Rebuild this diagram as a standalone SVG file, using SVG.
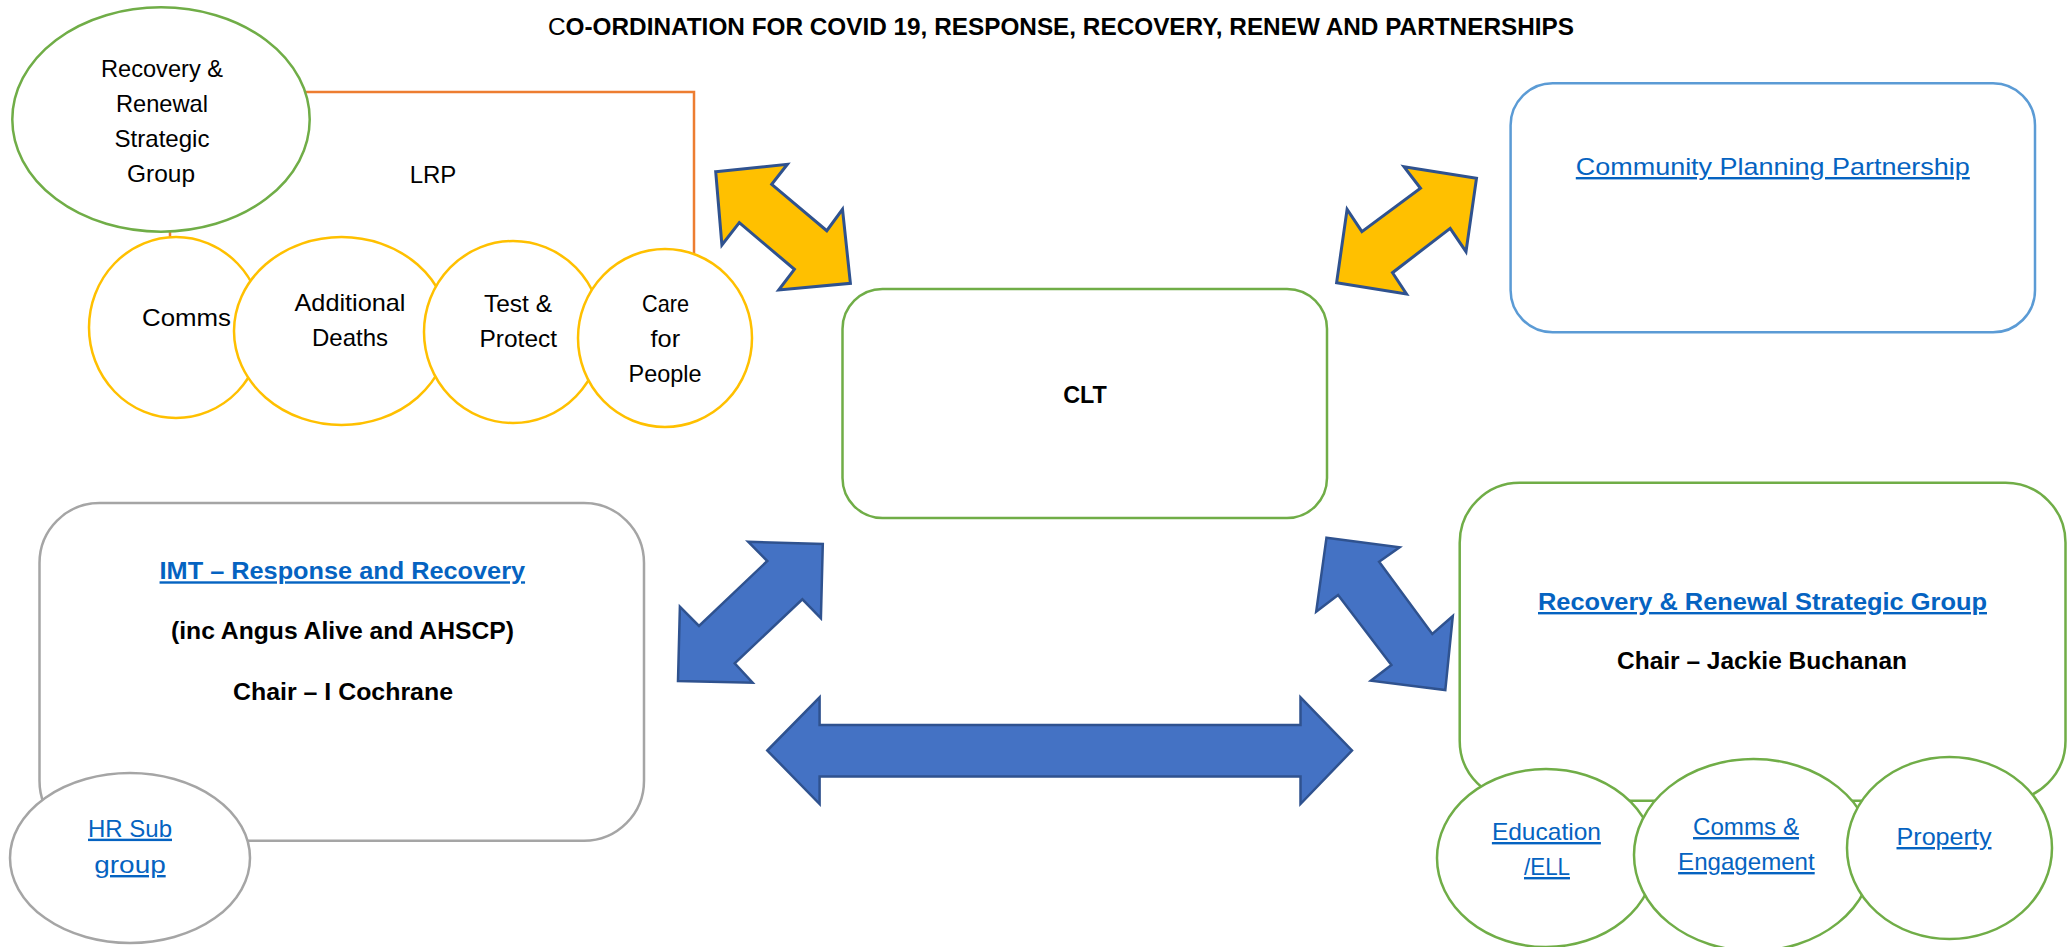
<svg xmlns="http://www.w3.org/2000/svg" width="2071" height="947" viewBox="0 0 2071 947">
<style>
text{font-family:"Liberation Sans",Arial,sans-serif;font-size:24px;fill:#000;text-anchor:middle}
.b{font-weight:bold}
.lk{fill:#0563C1;text-decoration:underline}
.lkb{fill:#0563C1;text-decoration:underline;font-weight:bold}
.yc{fill:#fff;stroke:#FFC000;stroke-width:2.5}
.gc{fill:#fff;stroke:#70AD47;stroke-width:2.5}
.ya{fill:#FFC000;stroke:#2F528F;stroke-width:3;stroke-linejoin:miter}
.ba{fill:#4472C4;stroke:#2F528F;stroke-width:2.5;stroke-linejoin:miter}
</style>
<rect width="2071" height="947" fill="#fff"/>
<text id="title" class="b" x="1061" y="35" textLength="1026" lengthAdjust="spacingAndGlyphs"><tspan font-weight="normal">C</tspan>O-ORDINATION FOR COVID 19, RESPONSE, RECOVERY, RENEW AND PARTNERSHIPS</text>

<g id="connectors">
<polygon class="ya" points="715.7,171.7 787.4,164.3 771.7,184.3 826.8,230.7 842.5,209.3 850.4,283.3 778.7,290 794.4,269.3 739.3,222.7 721.9,245"/>
<polygon class="ya" points="1403.9,166.7 1476.5,178.3 1466,251.7 1450.2,228.3 1392.5,272.7 1406.5,294 1336.6,282.7 1347.1,209.3 1361.9,231.7 1420.5,188.3"/>
<polygon class="ba" points="748.1,541.7 822.8,544 820.9,618.3 802.4,599.3 734.7,663.3 752.6,682.7 678,681 679.9,606.7 699,626 767.3,561"/>
<polygon class="ba" points="1326.5,537.7 1399.6,547.3 1379.1,561.7 1432.3,634 1452.8,616 1445.3,690 1370.9,680.7 1391.4,665 1338.1,595 1316.2,611.7"/>
<polygon class="ba" points="767.3,750.5 819.6,697.3 819.6,725 1300.5,725 1300.5,697.3 1352,750.5 1300.5,804 1300.5,776.5 819.6,776.5 819.6,804"/>
</g>

<g id="lrp">
<rect x="170" y="92" width="524" height="198" fill="none" stroke="#ED7D31" stroke-width="2.5"/>
<text x="433" y="183">LRP</text>
</g>

<g id="rrsg-small">
<ellipse cx="161" cy="119.5" rx="148.7" ry="112.2" class="gc"/>
<text x="162" y="77" textLength="122" lengthAdjust="spacingAndGlyphs">Recovery &amp;</text>
<text x="162" y="112" textLength="92" lengthAdjust="spacingAndGlyphs">Renewal</text>
<text x="162" y="147" textLength="95" lengthAdjust="spacingAndGlyphs">Strategic</text>
<text x="161" y="182" textLength="68" lengthAdjust="spacingAndGlyphs">Group</text>
</g>

<g id="comms">
<ellipse cx="176" cy="327.5" rx="87" ry="90.5" class="yc"/>
<text x="186.5" y="326" textLength="89" lengthAdjust="spacingAndGlyphs">Comms</text>
</g>
<g id="additional-deaths">
<ellipse cx="341.5" cy="331" rx="107.5" ry="94" class="yc"/>
<text x="350" y="310.7" textLength="111" lengthAdjust="spacingAndGlyphs">Additional</text>
<text x="350" y="346" textLength="76" lengthAdjust="spacingAndGlyphs">Deaths</text>
</g>
<g id="test-protect">
<ellipse cx="513" cy="332" rx="89" ry="91" class="yc"/>
<text x="518" y="311.7" textLength="68" lengthAdjust="spacingAndGlyphs">Test &amp;</text>
<text x="518.3" y="346.7" textLength="77.5" lengthAdjust="spacingAndGlyphs">Protect</text>
</g>
<g id="care-for-people">
<ellipse cx="665" cy="338" rx="87" ry="89" class="yc"/>
<text x="665.5" y="311.7" textLength="47" lengthAdjust="spacingAndGlyphs">Care</text>
<text x="665.3" y="346.7" textLength="29.6" lengthAdjust="spacingAndGlyphs">for</text>
<text x="665" y="381.7" textLength="73" lengthAdjust="spacingAndGlyphs">People</text>
</g>

<g id="clt">
<rect x="842.5" y="289" width="484.5" height="229" rx="40" class="gc"/>
<text class="b" x="1085" y="402.7" textLength="43.7" lengthAdjust="spacingAndGlyphs">CLT</text>
</g>

<g id="cpp">
<rect x="1510.6" y="83.3" width="524.4" height="249" rx="42" fill="#fff" stroke="#5B9BD5" stroke-width="2.5"/>
<text class="lk" x="1772.8" y="175" textLength="394" lengthAdjust="spacingAndGlyphs">Community Planning Partnership</text>
</g>

<g id="imt">
<rect x="39.5" y="503" width="604.5" height="337.7" rx="60" fill="#fff" stroke="#A5A5A5" stroke-width="2.5"/>
<text class="lkb" x="342.3" y="579.3" textLength="365.5" lengthAdjust="spacingAndGlyphs">IMT – Response and Recovery</text>
<text class="b" x="342.5" y="639.3" textLength="343" lengthAdjust="spacingAndGlyphs">(inc Angus Alive and AHSCP)</text>
<text class="b" x="343" y="700" textLength="220" lengthAdjust="spacingAndGlyphs">Chair – I Cochrane</text>
</g>

<g id="hr-sub-group">
<ellipse cx="130" cy="858" rx="120" ry="85" fill="#fff" stroke="#A5A5A5" stroke-width="2.5"/>
<text class="lk" x="130" y="836.7" textLength="84" lengthAdjust="spacingAndGlyphs">HR Sub</text>
<text class="lk" x="130" y="873" textLength="71.4" lengthAdjust="spacingAndGlyphs">group</text>
</g>

<g id="rrsg">
<rect x="1459.7" y="482.7" width="605.8" height="318" rx="60" class="gc"/>
<text class="lkb" x="1762.5" y="610" textLength="449" lengthAdjust="spacingAndGlyphs">Recovery &amp; Renewal Strategic Group</text>
<text class="b" x="1762" y="669.3" textLength="290" lengthAdjust="spacingAndGlyphs">Chair – Jackie Buchanan</text>
</g>

<g id="education-ell">
<ellipse cx="1546" cy="858" rx="109" ry="89" class="gc"/>
<text class="lk" x="1546.4" y="840" textLength="109" lengthAdjust="spacingAndGlyphs">Education</text>
<text class="lk" x="1547" y="875" textLength="46" lengthAdjust="spacingAndGlyphs">/ELL</text>
</g>
<g id="comms-engagement">
<ellipse cx="1753.5" cy="855" rx="119.5" ry="96" class="gc"/>
<text class="lk" x="1746" y="835" textLength="106" lengthAdjust="spacingAndGlyphs">Comms &amp;</text>
<text class="lk" x="1746.4" y="870" textLength="136.6" lengthAdjust="spacingAndGlyphs">Engagement</text>
</g>
<g id="property">
<ellipse cx="1949.5" cy="848" rx="102.5" ry="91" class="gc"/>
<text class="lk" x="1944" y="845" textLength="95" lengthAdjust="spacingAndGlyphs">Property</text>
</g>
</svg>
